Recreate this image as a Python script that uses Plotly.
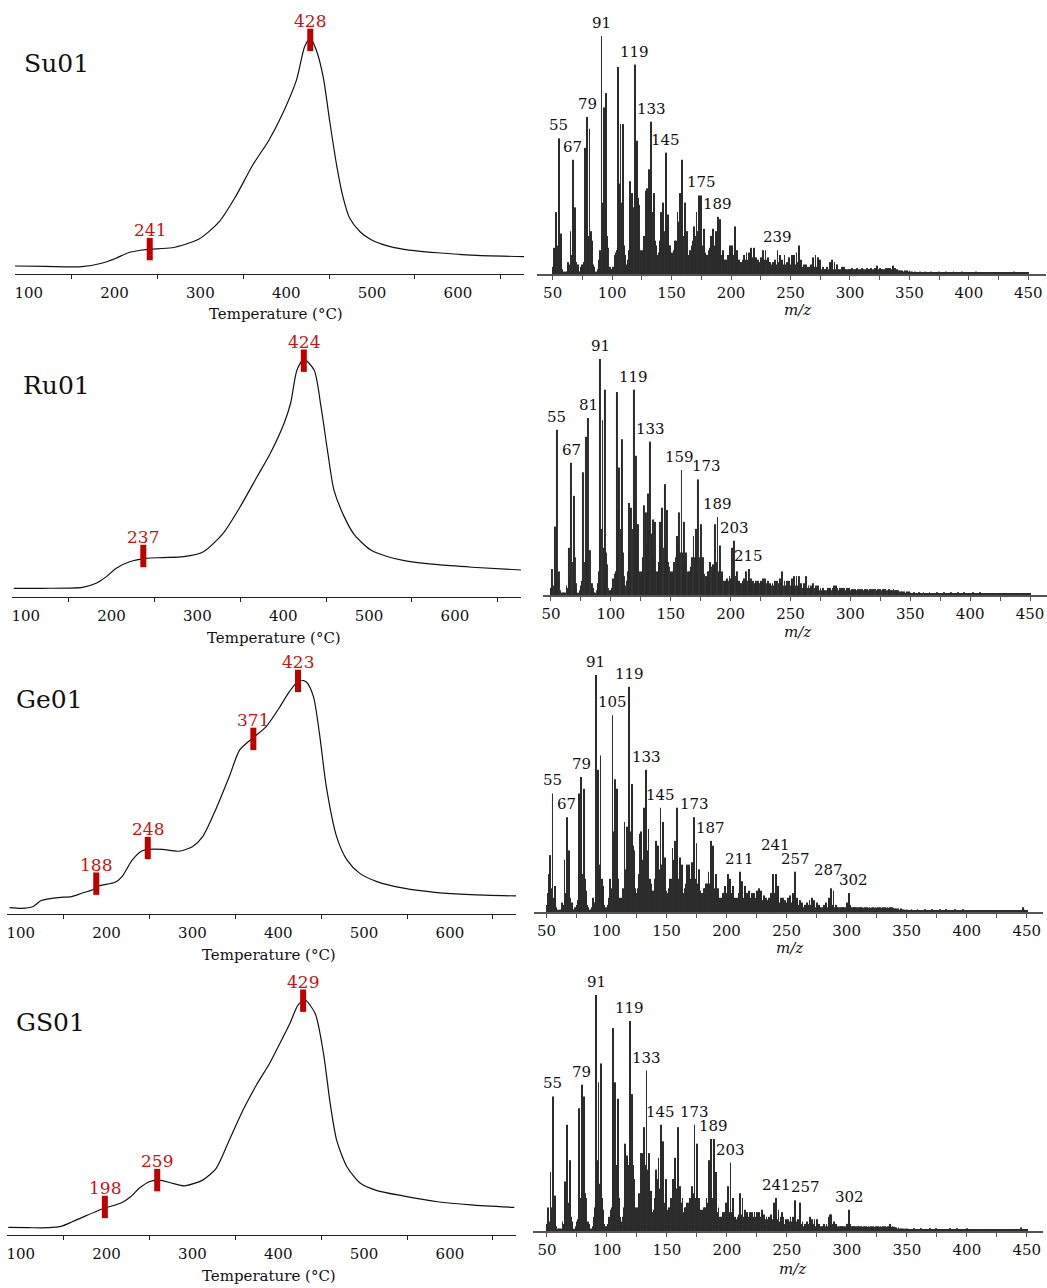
import plotly.graph_objects as go

W, H = 1047, 1288
FONT = "DejaVu Serif"

# ---------------- thermogram data (temperature in °C, normalised signal) ----------------
SU_T = [84, 120, 162, 185, 201, 216, 232, 242, 267, 298, 322, 341, 361, 380, 396, 412, 421.5, 428,
        435, 443, 451, 459, 466, 474, 486, 498, 517, 537, 576, 615, 677]
SU_I = [0.003, 0.001, 0.0, 0.015, 0.036, 0.061, 0.073, 0.077, 0.083, 0.120, 0.197, 0.307, 0.445, 0.555,
        0.672, 0.818, 0.964, 1.0, 0.949, 0.832, 0.628, 0.438, 0.307, 0.212, 0.153, 0.120, 0.092, 0.076,
        0.061, 0.051, 0.044]
SU_MK_T = [241, 428]
SU_MK_I = [0.077, 0.993]

RU_T = [86, 120, 166, 182, 194, 205, 221, 240, 260, 284, 307, 330, 350, 369.5, 385, 401, 408.6, 416, 424,
        436, 444, 452, 459, 471, 483, 502, 522, 541, 580, 620, 677]
RU_I = [0.0, 0.0, 0.004, 0.022, 0.051, 0.087, 0.116, 0.131, 0.134, 0.138, 0.160, 0.240, 0.357, 0.487,
        0.590, 0.721, 0.808, 0.953, 1.0, 0.953, 0.793, 0.590, 0.430, 0.313, 0.233, 0.167, 0.138, 0.121,
        0.103, 0.092, 0.080]
RU_MK_T = [237, 424]
RU_MK_I = [0.141, 0.994]

GE_T = [87, 101, 114, 124, 144, 159, 171, 183, 190.6, 210, 218, 230, 241, 249, 265, 284, 300, 312, 327,
        343, 355, 370, 386, 402, 413, 425, 433, 441, 448, 456, 468, 480, 495, 515, 546, 585, 624, 677]
GE_I = [0.003, 0.0, 0.007, 0.034, 0.047, 0.051, 0.066, 0.080, 0.098, 0.114, 0.139, 0.212, 0.251, 0.258,
        0.258, 0.250, 0.270, 0.314, 0.431, 0.577, 0.693, 0.745, 0.796, 0.883, 0.949, 1.0, 0.99, 0.927,
        0.766, 0.533, 0.314, 0.212, 0.153, 0.117, 0.088, 0.069, 0.060, 0.054]
GE_MK_T = [188, 248, 371, 423]
GE_MK_I = [0.108, 0.264, 0.742, 0.996]

GS_T = [85.5, 109, 132, 148, 160, 175, 195, 218, 228, 238, 249.6, 261, 277, 290.6, 312, 327.7, 343, 359,
        374.6, 390, 402, 413.7, 423, 431, 443, 452.7, 460.5, 468, 480, 495.7, 515, 546.5, 585.5, 624.6, 675]
GS_I = [0.001, 0.0, 0.0, 0.007, 0.026, 0.051, 0.082, 0.111, 0.136, 0.173, 0.202, 0.209, 0.195, 0.184,
        0.209, 0.261, 0.385, 0.517, 0.627, 0.722, 0.810, 0.898, 0.978, 1.0, 0.941, 0.766, 0.546, 0.385,
        0.268, 0.195, 0.163, 0.139, 0.114, 0.100, 0.089]
GS_MK_T = [198, 259, 429]
GS_MK_I = [0.091, 0.209, 0.997]

T_TICKS = [100, 200, 300, 400, 500, 600]
T_MINOR = [150, 250, 350, 450, 550, 650]

# ---------------- mass spectra (relative intensity, m/z 50 ... 450) ----------------
MZ_START = 50
S1_MAIN = [3, 11, 4, 26, 12, 57, 14, 17, 2, 1,
           1, 1, 1, 5, 4, 18, 8, 48, 13, 28,
           5, 4, 1, 1, 3, 4, 5, 53, 14, 66,
           16, 61, 18, 14, 4, 3, 1, 1, 2, 6,
           10, 100, 30, 70, 20, 76, 16, 11, 3, 2,
           2, 3, 8, 9, 10, 87, 38, 63, 30, 63,
           12, 8, 4, 6, 10, 39, 18, 34, 28, 88,
           40, 56, 32, 29, 10, 8, 10, 16, 35, 36,
           22, 44, 28, 64, 26, 34, 14, 12, 8, 9,
           14, 26, 22, 30, 18, 51, 20, 25, 12, 12,
           9, 8, 10, 14, 14, 26, 22, 34, 18, 48,
           16, 30, 14, 18, 8, 10, 10, 12, 14, 20,
           16, 26, 18, 33, 14, 33, 12, 19, 9, 8,
           8, 10, 11, 16, 12, 19, 12, 18, 12, 24,
           10, 23, 8, 10, 6, 6, 6, 8, 8, 12,
           8, 12, 8, 20, 8, 10, 6, 6, 5, 5,
           6, 8, 6, 9, 6, 9, 6, 11, 7, 11,
           6, 7, 5, 6, 5, 7, 6, 10, 6, 10,
           6, 7, 5, 5, 4, 5, 4, 6, 4, 10,
           5, 8, 4, 6, 4, 8, 4, 5, 3, 7,
           4, 8, 4, 8, 4, 9, 5, 12, 4, 6,
           3, 4, 3, 4, 2, 3, 3, 4, 3, 7,
           3, 8, 3, 7, 2, 6, 2, 3, 2, 2,
           2, 3, 2, 5, 2, 6, 2, 5, 2, 4,
           2, 2, 2, 3, 2, 3, 2, 2, 2, 2,
           2]
S1_TAIL = [2, 2.5, 2, 2, 2, 2.5, 2, 2, 2, 2.5,
           2, 2, 2, 2.5, 2, 2, 2, 2.5, 2, 2,
           2.5, 2, 3.5, 2, 2.5, 2, 2, 2, 2, 2.5,
           2, 2.5, 2, 2.5, 2, 3.5, 2, 2.5, 2, 2,
           1.5, 1.5, 1, 1.5, 1, 1.5, 1, 1.5, 1, 1.5,
           1, 1, 0.8, 0.8, 1, 0.8, 0.8, 0.8, 1, 0.8,
           0.8, 0.8, 1, 0.8, 0.8, 0.8, 0.8, 1, 0.8, 0.8,
           0.8, 0.8, 0.8, 0.8, 1, 0.8, 0.8, 0.8, 0.8, 0.8,
           1, 0.8, 0.8, 0.8, 0.8, 0.8, 1, 0.8, 0.8, 0.8,
           0.8, 0.8, 0.8, 1, 0.8, 0.8, 0.8, 0.8, 0.8, 0.8,
           0.8, 0.8, 0.8, 0.8, 0.8, 1, 0.8, 0.8, 0.8, 0.8,
           0.8, 0.8, 0.8, 0.8, 0.8, 0.8, 0.8, 0.8, 0.8, 0.8,
           0.8, 0.8, 0.8, 0.8, 0.8, 0.8, 0.8, 0.8, 0.8, 0.8,
           0.8, 0.8, 0.8, 0.8, 0.8, 0.8, 0.8, 1, 0.8, 0.8,
           0.8, 0.8, 0.8, 0.8, 0.8, 0.8, 0.8, 0.8, 0.8, 0.8]

S2_MAIN = [3, 11, 4, 29, 10, 70, 6, 10, 2, 1,
           1, 1, 1, 4, 3, 20, 8, 56, 14, 42,
           16, 5, 1, 1, 2, 4, 6, 52, 14, 67,
           16, 75, 19, 19, 5, 3, 1, 1, 2, 5,
           10, 100, 28, 74, 20, 87, 18, 13, 3, 2,
           2, 3, 7, 9, 10, 86, 36, 54, 28, 66,
           18, 8, 4, 6, 10, 39, 18, 37, 28, 87,
           40, 59, 30, 30, 10, 8, 10, 16, 38, 35,
           22, 43, 28, 65, 26, 32, 16, 31, 10, 10,
           14, 31, 22, 37, 20, 47, 22, 36, 14, 12,
           10, 9, 10, 14, 16, 25, 22, 35, 18, 53,
           18, 31, 14, 18, 10, 10, 10, 12, 16, 25,
           16, 28, 18, 49, 16, 30, 12, 16, 9, 8,
           8, 10, 10, 14, 12, 13, 12, 30, 14, 33,
           10, 21, 8, 10, 6, 6, 6, 7, 6, 8,
           7, 20, 8, 23, 8, 10, 6, 6, 5, 5,
           6, 7, 6, 10, 6, 11, 6, 7, 5, 6,
           5, 6, 5, 6, 5, 6, 5, 7, 5, 7,
           5, 6, 4, 5, 4, 5, 4, 6, 4, 6,
           5, 7, 5, 10, 4, 6, 4, 6, 3, 6,
           4, 7, 4, 8, 4, 8, 4, 8, 3, 5,
           3, 5, 3, 8, 3, 4, 3, 4, 3, 5,
           3, 4, 3, 4, 2, 3, 2, 3, 2, 2,
           2, 3, 2, 3, 2, 3, 4, 3, 4, 3,
           2, 3, 2, 3, 2, 3, 2, 3, 2, 3,
           2]
S2_TAIL = [2.5, 2.5, 2, 2.5, 2, 2.5, 2, 2.5, 2, 2.5,
           2, 2.5, 2, 2.5, 2, 2.5, 2, 2.5, 2, 2.5,
           2.5, 2, 2.5, 2, 2.5, 2, 2.5, 2, 2.5, 2,
           2, 2.5, 2, 2, 2, 2.5, 2, 2, 2, 2,
           1.5, 1.5, 1.5, 1, 1.5, 1, 1.5, 1, 1.5, 1,
           0.8, 0.8, 1.2, 0.8, 0.8, 0.8, 1.2, 0.8, 0.8, 0.8,
           1.2, 0.8, 0.8, 0.8, 0.8, 1.2, 0.8, 0.8, 0.8, 0.8,
           0.8, 1.2, 0.8, 0.8, 0.8, 0.8, 0.8, 1.2, 0.8, 0.8,
           0.8, 0.8, 0.8, 1.2, 0.8, 0.8, 0.8, 0.8, 0.8, 1.2,
           0.8, 0.8, 0.8, 0.8, 1.2, 0.8, 0.8, 0.8, 0.8, 0.8,
           0.8, 1.2, 0.8, 0.8, 0.8, 0.8, 0.8, 1.2, 0.8, 0.8,
           0.8, 0.8, 0.8, 0.8, 0.8, 0.8, 0.8, 0.8, 0.8, 0.8,
           0.8, 0.8, 0.8, 0.8, 0.8, 0.8, 0.8, 0.8, 0.8, 0.8,
           0.5, 0.5, 0.8, 0.8, 0.5, 0.5, 0.8, 0.5, 0.5, 0.8,
           0.8, 0.5, 0.5, 0.5, 0.8, 0.8, 0.5, 0.5, 0.8, 0.5]

S3_MAIN = [3, 8, 16, 24, 10, 50, 6, 11, 2, 1,
           1, 1, 1, 4, 3, 22, 8, 40, 12, 26,
           6, 4, 1, 1, 2, 3, 5, 50, 14, 57,
           16, 52, 14, 9, 3, 2, 1, 1, 2, 6,
           4, 100, 30, 60, 20, 66, 14, 11, 3, 2,
           2, 3, 6, 14, 10, 83, 34, 56, 28, 52,
           14, 6, 4, 6, 10, 38, 18, 36, 28, 95,
           34, 54, 28, 26, 10, 8, 10, 16, 33, 34,
           22, 44, 28, 60, 26, 35, 14, 12, 8, 9,
           14, 30, 22, 28, 18, 44, 20, 38, 12, 23,
           9, 8, 10, 14, 14, 27, 22, 30, 18, 44,
           14, 23, 12, 20, 8, 10, 12, 20, 14, 20,
           14, 21, 16, 40, 14, 29, 12, 18, 9, 8,
           8, 10, 10, 12, 12, 17, 12, 30, 12, 28,
           10, 16, 8, 10, 6, 6, 6, 8, 8, 11,
           8, 16, 8, 14, 8, 11, 6, 6, 5, 6,
           8, 17, 8, 13, 6, 11, 6, 8, 6, 9,
           6, 8, 6, 8, 6, 9, 6, 10, 6, 9,
           5, 7, 5, 6, 5, 6, 5, 8, 6, 16,
           8, 16, 5, 11, 4, 6, 4, 6, 3, 5,
           4, 6, 4, 7, 4, 8, 5, 17, 4, 6,
           3, 5, 3, 4, 2, 3, 3, 4, 3, 5,
           3, 6, 3, 5, 2, 4, 2, 3, 2, 2,
           2, 3, 2, 4, 2, 6, 3, 10, 3, 9,
           2, 3, 2, 2, 2, 2, 2, 2, 2, 2,
           4]
S3_TAIL = [3, 8, 3, 2, 2, 2, 2, 2, 2, 2,
           2, 1.8, 2, 1.8, 2, 1.8, 2, 1.8, 2, 1.8,
           1.8, 2, 1.8, 2, 1.8, 2, 1.8, 2, 1.8, 2,
           1.8, 2, 1.8, 2, 1.8, 2, 1.8, 2, 1.8, 1.5,
           1.5, 1, 1.5, 1, 1.5, 1, 1, 1, 1, 1,
           0.8, 0.8, 0.8, 1.2, 0.8, 0.8, 0.8, 0.8, 1.2, 0.8,
           0.8, 0.8, 0.8, 0.8, 1.2, 0.8, 0.8, 0.8, 0.8, 0.8,
           1.2, 0.8, 0.8, 0.8, 0.8, 0.8, 0.8, 1.2, 0.8, 0.8,
           0.8, 0.8, 1.2, 0.8, 0.8, 0.8, 0.8, 0.8, 0.8, 1.2,
           0.8, 0.8, 0.8, 0.8, 0.8, 0.8, 1.2, 0.8, 0.8, 0.8,
           0.6, 0.6, 0.6, 0.6, 0.6, 0.6, 0.6, 0.6, 0.6, 0.6,
           0.6, 0.6, 0.6, 0.6, 0.6, 0.6, 0.6, 0.6, 0.6, 0.6,
           0.6, 0.6, 0.6, 0.6, 0.6, 0.6, 0.6, 0.6, 0.6, 0.6,
           0.6, 0.6, 0.6, 0.6, 0.6, 0.6, 0.6, 0.6, 0.6, 0.6,
           0.6, 0.6, 0.6, 0.6, 0.6, 0.6, 2, 1, 0.6, 0.6]

S4_MAIN = [3, 10, 4, 25, 10, 57, 8, 15, 2, 1,
           1, 1, 1, 4, 3, 21, 8, 45, 12, 30,
           6, 4, 1, 1, 2, 4, 5, 52, 14, 62,
           16, 57, 16, 14, 4, 3, 1, 1, 2, 6,
           10, 100, 30, 63, 20, 71, 14, 9, 3, 2,
           2, 3, 6, 9, 10, 86, 34, 63, 28, 56,
           14, 6, 4, 6, 10, 37, 18, 32, 28, 89,
           38, 58, 28, 22, 10, 8, 10, 16, 33, 33,
           22, 44, 28, 68, 26, 33, 14, 17, 8, 9,
           14, 26, 22, 31, 18, 45, 20, 38, 12, 22,
           9, 8, 10, 14, 14, 22, 22, 31, 18, 44,
           14, 19, 12, 14, 8, 10, 10, 12, 12, 14,
           14, 19, 16, 45, 14, 37, 12, 14, 9, 9,
           8, 10, 10, 14, 12, 30, 12, 39, 14, 39,
           10, 25, 8, 10, 6, 6, 6, 8, 8, 12,
           8, 19, 8, 29, 8, 14, 6, 6, 5, 6,
           7, 16, 7, 14, 6, 9, 6, 8, 6, 8,
           6, 8, 6, 8, 6, 8, 6, 8, 6, 9,
           5, 7, 5, 6, 5, 6, 5, 7, 5, 12,
           6, 14, 5, 9, 4, 6, 8, 6, 3, 5,
           4, 5, 4, 6, 4, 6, 5, 13, 4, 5,
           3, 12, 3, 4, 2, 3, 3, 4, 3, 6,
           3, 5, 3, 5, 2, 5, 2, 3, 2, 2,
           2, 3, 2, 3, 2, 6, 7, 7, 3, 4,
           2, 3, 2, 2, 2, 2, 2, 2, 2, 2,
           3]
S4_TAIL = [3, 9, 3, 2, 2, 2, 2, 2, 2, 2,
           1.8, 2, 1.8, 2, 1.8, 2, 1.8, 2, 1.8, 2,
           1.8, 2, 1.8, 2, 1.8, 2, 1.8, 2, 1.8, 2,
           1.8, 2, 1.8, 2, 1.8, 3, 1.8, 2, 1.8, 1.5,
           1.5, 1, 1.5, 1, 1, 1, 1, 1, 1, 1,
           0.8, 0.8, 0.8, 0.8, 0.8, 1.2, 0.8, 0.8, 0.8, 0.8,
           0.8, 1.2, 0.8, 0.8, 0.8, 0.8, 0.8, 0.8, 1.2, 0.8,
           0.8, 0.8, 0.8, 1.2, 0.8, 0.8, 0.8, 0.8, 0.8, 0.8,
           0.8, 0.8, 0.8, 0.8, 0.8, 1.2, 0.8, 0.8, 0.8, 0.8,
           0.8, 1.2, 0.8, 0.8, 0.8, 0.8, 0.8, 0.8, 0.8, 1.2,
           0.8, 0.8, 0.8, 0.8, 0.8, 0.8, 0.8, 0.8, 0.8, 0.8,
           0.8, 0.8, 0.8, 0.8, 0.8, 0.8, 0.8, 0.8, 0.8, 0.8,
           0.8, 0.8, 0.8, 0.8, 0.8, 0.8, 0.8, 0.8, 0.8, 0.8,
           0.8, 0.8, 0.8, 0.8, 0.8, 0.8, 0.8, 0.8, 0.8, 0.8,
           0.8, 0.8, 0.8, 0.8, 1.5, 0.8, 0.8, 0.8, 0.8, 0.8]

S1_LABELS = [55, 67, 79, 91, 119, 133, 145, 175, 189, 239]
S2_LABELS = [55, 67, 81, 91, 119, 133, 159, 173, 189, 203, 215]
S3_LABELS = [55, 67, 79, 91, 105, 119, 133, 145, 173, 187, 211, 241, 257, 287, 302]
S4_LABELS = [55, 79, 91, 119, 133, 145, 173, 189, 203, 241, 257, 302]

MZ_TICKS = [50, 100, 150, 200, 250, 300, 350, 400, 450]
MZ_MINOR = [75, 125, 175, 225, 275, 325, 375, 425]

# ---------------- layout geometry (pixels) ----------------
LEFT = [
    dict(name="Su01", T=SU_T, I=SU_I, mT=SU_MK_T, mI=SU_MK_I, x0=13, x1=523, axis=274.3, base=266.7,
         peak=38.3, name_xy=(55, 64), title_xy=(275, 314)),
    dict(name="Ru01", T=RU_T, I=RU_I, mT=RU_MK_T, mI=RU_MK_I, x0=10, x1=520, axis=596.7, base=588.3,
         peak=359.3, name_xy=(55, 385), title_xy=(273, 638)),
    dict(name="Ge01", T=GE_T, I=GE_I, mT=GE_MK_T, mI=GE_MK_I, x0=5, x1=515, axis=914.3, base=908.3,
         peak=680, name_xy=(48, 699), title_xy=(268, 955)),
    dict(name="GS01", T=GS_T, I=GS_I, mT=GS_MK_T, mI=GS_MK_I, x0=5, x1=515, axis=1235, base=1227.7,
         peak=1000, name_xy=(49, 1022), title_xy=(268, 1276)),
]
T_RANGE = [84, 677]

SPEC = [
    dict(I=S1_MAIN + S1_TAIL, labels=S1_LABELS, x0=536, x1=1046, x50=551.7, sc=1.1915, axis=274,
         top=36, title_xy=(797, 310), shifts={}),
    dict(I=S2_MAIN + S2_TAIL, labels=S2_LABELS, x0=542, x1=1047, x50=550, sc=1.2, axis=595,
         top=359, title_xy=(797, 632), shifts={159: (-2, 0), 173: (8, 0)}),
    dict(I=S3_MAIN + S3_TAIL, labels=S3_LABELS, x0=533, x1=1043, x50=545.5, sc=1.203, axis=912,
         top=675, title_xy=(789, 948), shifts={241: (0, 16), 287: (-3, 5), 302: (4, 0)}),
    dict(I=S4_MAIN + S4_TAIL, labels=S4_LABELS, x0=532, x1=1043, x50=546, sc=1.202, axis=1231,
         top=995, title_xy=(792, 1269), shifts={257: (10, 0)}),
]

LABEL_SIZE = 15
TICK_SIZE = 15


def fx(p):
    return p / W


def fy(p):
    return 1 - p / H


fig = go.Figure()
layout = dict(width=W, height=H, margin=dict(l=0, r=0, t=0, b=0), paper_bgcolor="white",
              plot_bgcolor="rgba(0,0,0,0)", showlegend=False, barmode="overlay",
              font=dict(family=FONT, color="#111111", size=14))
annotations = []

RED = "#c00000"

for i, p in enumerate(LEFT):
    n = i + 1
    xa, ya = f"x{n}", f"y{n}"
    span = p["base"] - p["peak"]
    ymin = (p["base"] - p["axis"]) / span
    fig.add_trace(go.Scatter(x=p["T"], y=p["I"], mode="lines", xaxis=xa, yaxis=ya,
                             line=dict(color="#111111", width=1.2, shape="spline", smoothing=0.7),
                             cliponaxis=False, hoverinfo="skip"))
    fig.add_trace(go.Scatter(x=p["mT"], y=p["mI"], mode="markers", xaxis=xa, yaxis=ya,
                             marker=dict(symbol="line-ns", size=16, line=dict(color=RED, width=6)),
                             cliponaxis=False, hoverinfo="skip"))
    for t, v in zip(p["mT"], p["mI"]):
        annotations.append(dict(x=t, y=v, xref=xa, yref=ya, text=str(t), showarrow=False,
                                xanchor="center", yanchor="middle",
                                yshift=19, font=dict(size=17, color="#cc1111", family=FONT)))
    layout[f"xaxis{n}"] = dict(domain=[fx(p["x0"]), fx(p["x1"])], range=T_RANGE, anchor=ya,
                               showline=True, linecolor="#222222", linewidth=1.3, showgrid=False,
                               zeroline=False, tickvals=T_TICKS, ticks="", ticklabelstandoff=5,
                               tickfont=dict(size=TICK_SIZE, family=FONT, color="#111111"),
                               minor=dict(tickvals=T_MINOR, ticks="outside", ticklen=4,
                                          tickcolor="#222222", tickwidth=1, showgrid=False))
    layout[f"yaxis{n}"] = dict(domain=[fy(p["axis"]), fy(p["peak"])], range=[ymin, 1.0],
                               anchor=xa, visible=False)
    annotations.append(dict(x=fx(p["name_xy"][0]), y=fy(p["name_xy"][1]), xref="paper", yref="paper",
                            text=p["name"], showarrow=False, xanchor="center", yanchor="middle",
                            font=dict(size=25, family=FONT, color="#111111")))
    annotations.append(dict(x=fx(p["title_xy"][0]), y=fy(p["title_xy"][1]), xref="paper", yref="paper",
                            text="Temperature (°C)", showarrow=False, xanchor="center", yanchor="middle",
                            font=dict(size=15, family=FONT, color="#111111")))

for i, s in enumerate(SPEC):
    n = i + 5
    xa, ya = f"x{n}", f"y{n}"
    mz = list(range(MZ_START, MZ_START + len(s["I"])))
    fig.add_trace(go.Bar(x=mz, y=s["I"], width=0.72, xaxis=xa, yaxis=ya,
                         marker=dict(color="#2b2b2b", line=dict(width=0)), hoverinfo="skip"))
    xr0 = 50 - (s["x50"] - s["x0"]) / s["sc"]
    xr1 = 50 + (s["x1"] - s["x50"]) / s["sc"]
    layout[f"xaxis{n}"] = dict(domain=[fx(s["x0"]), fx(s["x1"])], range=[xr0, xr1], anchor=ya,
                               showline=True, linecolor="#555555", linewidth=2, showgrid=False,
                               zeroline=False, tickvals=MZ_TICKS, ticks="outside", ticklen=4,
                               tickcolor="#555555", tickwidth=1, ticklabelstandoff=0,
                               tickfont=dict(size=TICK_SIZE, family=FONT, color="#111111"),
                               minor=dict(tickvals=MZ_MINOR, ticks="outside", ticklen=4,
                                          tickcolor="#555555", tickwidth=1, showgrid=False))
    layout[f"yaxis{n}"] = dict(domain=[fy(s["axis"]), fy(s["top"])], range=[0, 100], anchor=xa,
                               visible=False)
    for m in s["labels"]:
        v = s["I"][m - MZ_START]
        dx, dy = s["shifts"].get(m, (0, 0))
        annotations.append(dict(x=m, y=v, xref=xa, yref=ya, text=str(m), showarrow=False,
                                xanchor="center", yanchor="bottom", yshift=2 + dy, xshift=dx,
                                font=dict(size=LABEL_SIZE, family=FONT, color="#111111")))
    annotations.append(dict(x=fx(s["title_xy"][0]), y=fy(s["title_xy"][1]), xref="paper", yref="paper",
                            text="<i>m/z</i>", showarrow=False, xanchor="center", yanchor="middle",
                            font=dict(size=15, family=FONT, color="#111111")))

layout["annotations"] = annotations
fig.update_layout(**layout)
fig.write_html("out.html", config={"displayModeBar": False},
               post_script="document.body.style.margin='0px';")
